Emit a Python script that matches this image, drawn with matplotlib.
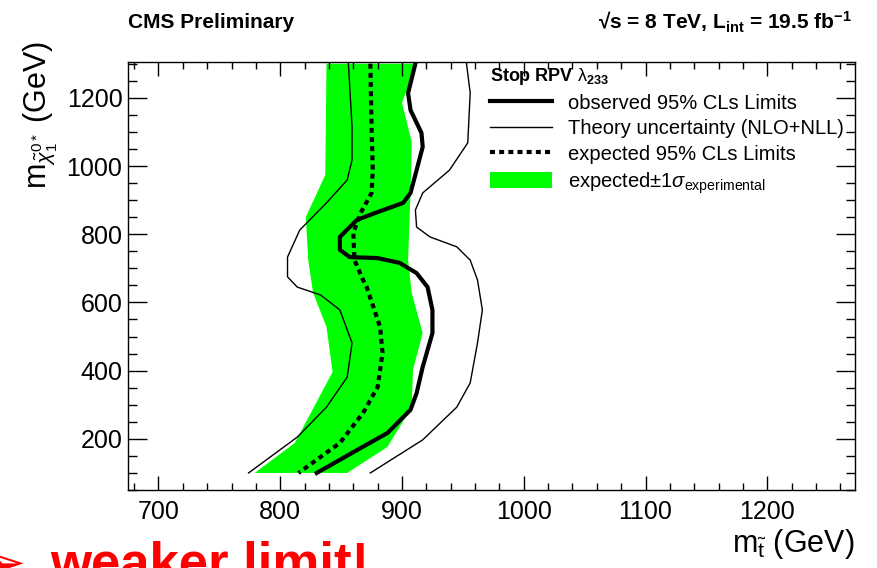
import numpy as np
import matplotlib
matplotlib.use("Agg")
import matplotlib.pyplot as plt
from matplotlib.ticker import MultipleLocator

plt.rcParams['font.family'] = ['Liberation Sans', 'DejaVu Sans']
plt.rcParams['mathtext.fontset'] = 'custom'
plt.rcParams['mathtext.rm'] = 'Liberation Sans'
plt.rcParams['mathtext.it'] = 'Liberation Sans:italic'
plt.rcParams['mathtext.bf'] = 'Liberation Sans:bold'

# green band: +-1 sigma expected (left and right edges)
band_lo_x = [838, 837, 821, 823, 827, 838, 843, 812, 779]
band_lo_y = [1300, 974, 850, 724, 628, 528, 396, 188, 100]
band_hi_x = [912, 900, 908, 907, 905, 908, 917, 909, 908, 888, 855]
band_hi_y = [1300, 1185, 1070, 921, 724, 628, 510, 402, 293, 176, 100]

# observed limit
obs_x = [911, 905, 907, 916, 917, 912, 907, 901, 880, 863, 849, 849, 857,
         880, 898, 912, 921, 925, 925, 917, 912, 907, 888, 863, 830]
obs_y = [1300, 1214, 1164, 1097, 1056, 988, 921, 892, 865, 842, 792, 754, 733,
         730, 716, 686, 645, 578, 510, 411, 334, 285, 217, 167, 100]

# expected limit
exp_x = [874, 875, 876, 875, 866, 860, 861, 868, 871, 882, 884, 880, 868, 849, 815]
exp_y = [1300, 1114, 988, 921, 862, 804, 724, 666, 645, 528, 452, 352, 276, 188, 100]

# theory uncertainty, lower edge
th_lo_x = [856, 859, 859, 855, 838, 816, 806, 806, 814, 833, 849, 859, 855, 838, 814, 774]
th_lo_y = [1300, 1114, 1018, 959, 892, 812, 733, 675, 645, 622, 578, 481, 381, 293, 205, 100]

# theory uncertainty, upper edge
th_hi_x = [953, 956, 954, 939, 917, 911, 912, 923, 945, 956, 962, 966, 962, 956, 945, 917, 874]
th_hi_y = [1300, 1214, 1068, 988, 921, 871, 821, 792, 763, 724, 666, 578, 481, 364, 293, 197, 100]

fig = plt.figure(figsize=(8.78, 5.68), dpi=100)
ax = fig.add_axes([128 / 878, 78 / 568, 727 / 878, 428 / 568])

band = ax.fill(band_lo_x + band_hi_x[::-1], band_lo_y + band_hi_y[::-1],
               color='#00ff00', lw=0, label=r'expected$\pm$1$\sigma_{\mathrm{experimental}}$')[0]
th, = ax.plot(th_lo_x, th_lo_y, color='black', lw=1.0, label='Theory uncertainty (NLO+NLL)')
ax.plot(th_hi_x, th_hi_y, color='black', lw=1.0)
ex, = ax.plot(exp_x, exp_y, color='black', lw=3.0, linestyle=(0, (1.2, 1.0)),
              label='expected 95% CLs Limits')
ob, = ax.plot(obs_x, obs_y, color='black', lw=3.0, label='observed 95% CLs Limits')

ax.set_xlim(675, 1272)
ax.set_ylim(50, 1305)
ax.xaxis.set_major_locator(MultipleLocator(100))
ax.xaxis.set_minor_locator(MultipleLocator(20))
ax.yaxis.set_major_locator(MultipleLocator(200))
ax.yaxis.set_minor_locator(MultipleLocator(50))
ax.tick_params(which='both', direction='in', top=True, right=True, labelsize=18, width=1)
ax.tick_params(axis='x', which='major', length=10, pad=7)
ax.tick_params(axis='x', which='minor', length=5)
ax.tick_params(axis='y', which='major', length=13.5, pad=4)
ax.tick_params(axis='y', which='minor', length=6.5)
for s in ax.spines.values():
    s.set_linewidth(1.0)

ax.set_xlabel(r'm$_{\tilde{\mathrm{t}}}$ (GeV)', fontsize=22, loc='right', va='baseline')
ax.xaxis.set_label_coords(1.0, -0.145)
ax.set_ylabel(r'm$_{\tilde{\chi}^{0*}_{1}}$ (GeV)', fontsize=22, loc='top', va='baseline')
ax.yaxis.set_label_coords(-0.111, 1.05)

leg = ax.legend(handles=[ob, th, ex, band], loc='upper left', bbox_to_anchor=(0.498, 0.99),
                frameon=False, fontsize=14.5, title=r'Stop RPV $\mathrm{\lambda}_{\mathbf{233}}$',
                title_fontproperties={'weight': 'bold', 'size': 13}, alignment='left',
                handlelength=3.1, handletextpad=0.75, labelspacing=0.32, handleheight=0.85,
                borderpad=0, borderaxespad=0)

fig.text(128 / 878, 1 - 22 / 568, 'CMS Preliminary', fontsize=15, fontweight='bold',
         ha='left', va='center')
fig.text(852 / 878, 1 - 22 / 568,
         '\u221as = 8 TeV, L$_{\\mathbf{int}}$ = 19.5 fb$^{\\mathbf{-1}}$',
         fontsize=15, fontweight='bold', ha='right', va='center')

# red remark at the bottom, cut by the figure edge as in the original slide
fig.text(25 / 878, -12 / 568, '\u27a2', color='red', fontsize=38, ha='right', va='baseline')
fig.text(50 / 878, -12 / 568, 'weaker limit!', color='red', fontsize=38, fontweight='bold',
         ha='left', va='baseline')

fig.savefig('out.png', dpi=100)
